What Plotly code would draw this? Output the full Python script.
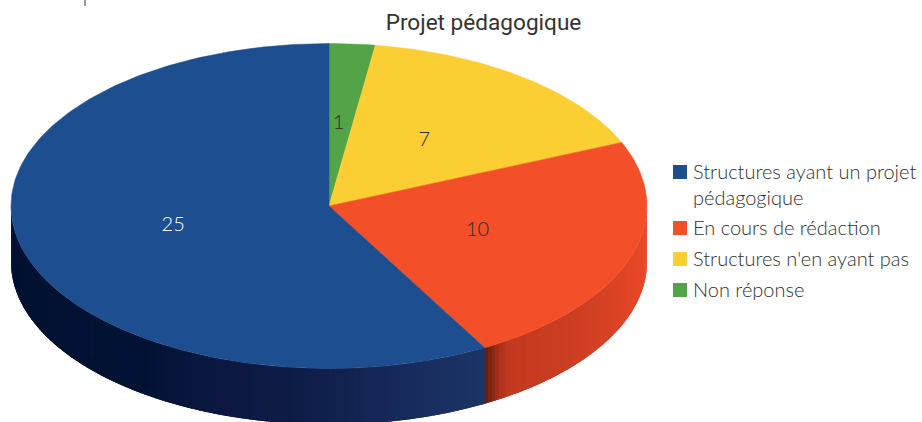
import math
import plotly.graph_objects as go

# Data
title = "Projet pédagogique"
categories = ["Structures ayant un projet<br>pédagogique", "En cours de rédaction",
              "Structures n'en ayant pas", "Non réponse"]
values = [25, 10, 7, 1]
colors = ["#1d4e8f", "#f3502a", "#fbce33", "#52a447"]
label_colors = ["#ffffff", "#2b2b2b", "#2b2b2b", "#2b2b2b"]

# Geometry in page pixels: the axes below map 1 unit to 1 pixel
CX, CY, RX, RY, DEPTH = 329, 206, 318, 162.5, 56
LEGEND_Y = [172, 228, 259, 290]

total = sum(values)
JUNCTION = 360 * (values[1] + values[2] + values[3]) / total

# Wall shading: (clockwise angle from top in degrees, colour)
wall_stops = [
    (90, (239, 75, 40)), (110, (224, 70, 38)), (130, (205, 62, 34)), (JUNCTION - 5, (195, 58, 32)),
    (JUNCTION - 3, (170, 48, 27)), (JUNCTION - 1.2, (125, 36, 20)), (JUNCTION, (95, 28, 16)),
    (JUNCTION + 0.001, (28, 53, 104)), (165, (24, 44, 92)), (185, (14, 28, 72)), (200, (12, 24, 66)),
    (215, (2, 18, 52)), (270, (1, 16, 48)),
]


def lerp_color(a):
    for (a0, c0), (a1, c1) in zip(wall_stops, wall_stops[1:]):
        if a0 <= a <= a1:
            t = (a - a0) / (a1 - a0)
            return "rgb(%d,%d,%d)" % tuple(round(p + (q - p) * t) for p, q in zip(c0, c1))
    return "rgb(1,16,48)"


def px(a, dy=0.0, r=1.0):
    t = math.radians(a)
    return CX + RX * r * math.sin(t), CY - RY * r * math.cos(t) + dy


fig = go.Figure()

# Side wall: each band overlaps the next one so no seams show
edges = sorted(set([90 + i * 0.75 for i in range(241)] + [JUNCTION]))
for a0, a1 in zip(edges, edges[1:]):
    a2 = min(a1 + 1.0, 270)
    pts = [px(a0), px(a2), px(a2, DEPTH), px(a0, DEPTH), px(a0)]
    fig.add_trace(go.Scatter(x=[p[0] for p in pts], y=[p[1] for p in pts], mode="lines",
                             fill="toself", fillcolor=lerp_color((a0 + a1) / 2), line=dict(width=0),
                             showlegend=False, hoverinfo="skip"))

# Top face, clockwise from 12 o'clock, last category first
start = 0.0
labels = []
for name, val, col, lab in list(zip(categories, values, colors, label_colors))[::-1]:
    end = start + val / total * 360
    steps = max(int(end - start), 2)
    arc = [px(start + (end - start) * k / steps) for k in range(steps + 1)]
    pts = [(CX, CY)] + arc + [(CX, CY)]
    fig.add_trace(go.Scatter(x=[p[0] for p in pts], y=[p[1] for p in pts], mode="lines",
                             fill="toself", fillcolor=col, line=dict(color=col, width=0.5),
                             showlegend=False, hoverinfo="skip"))
    lx, ly = px((start + end) / 2, -1, 0.5)
    labels.append((lx - 2, ly, val, lab))
    start = end

fig.add_trace(go.Scatter(x=[l[0] for l in labels], y=[l[1] for l in labels], mode="text",
                         text=[str(l[2]) for l in labels],
                         textfont=dict(family="Lato", size=20, color=[l[3] for l in labels], weight=300),
                         showlegend=False, hoverinfo="skip"))

# Legend swatches and texts, aligned to the first line of each entry
fig.add_trace(go.Scatter(x=[680] * len(categories), y=LEGEND_Y, mode="markers",
                         marker=dict(symbol="square", size=14, color=colors),
                         showlegend=False, hoverinfo="skip"))
annotations = [dict(x=691, y=y - 15, xref="x", yref="y", text=name, showarrow=False,
                    xanchor="left", yanchor="top", align="left",
                    font=dict(family="Lato", size=20, color="#2f2f2f", weight=300))
               for name, y in zip(categories, LEGEND_Y)]

fig.update_layout(
    width=922, height=422, margin=dict(l=0, r=0, t=0, b=0, autoexpand=False),
    paper_bgcolor="white", plot_bgcolor="white", showlegend=False,
    title=dict(text=title, x=483.5 / 922, xanchor="center", xref="paper",
               y=1 - 22 / 422, yanchor="middle", yref="container",
               font=dict(family="Roboto", size=22.6, color="#333333")),
    xaxis=dict(range=[0, 922], visible=False, fixedrange=True),
    yaxis=dict(range=[422, 0], visible=False, fixedrange=True),
    annotations=annotations,
    shapes=[dict(type="line", xref="x", yref="y", x0=85, x1=85, y0=0, y1=6,
                 line=dict(color="#333333", width=1))],
)

fig.write_html("out.html", config={"displayModeBar": False},
               post_script="document.body.style.margin='0';document.body.style.overflow='hidden';")
